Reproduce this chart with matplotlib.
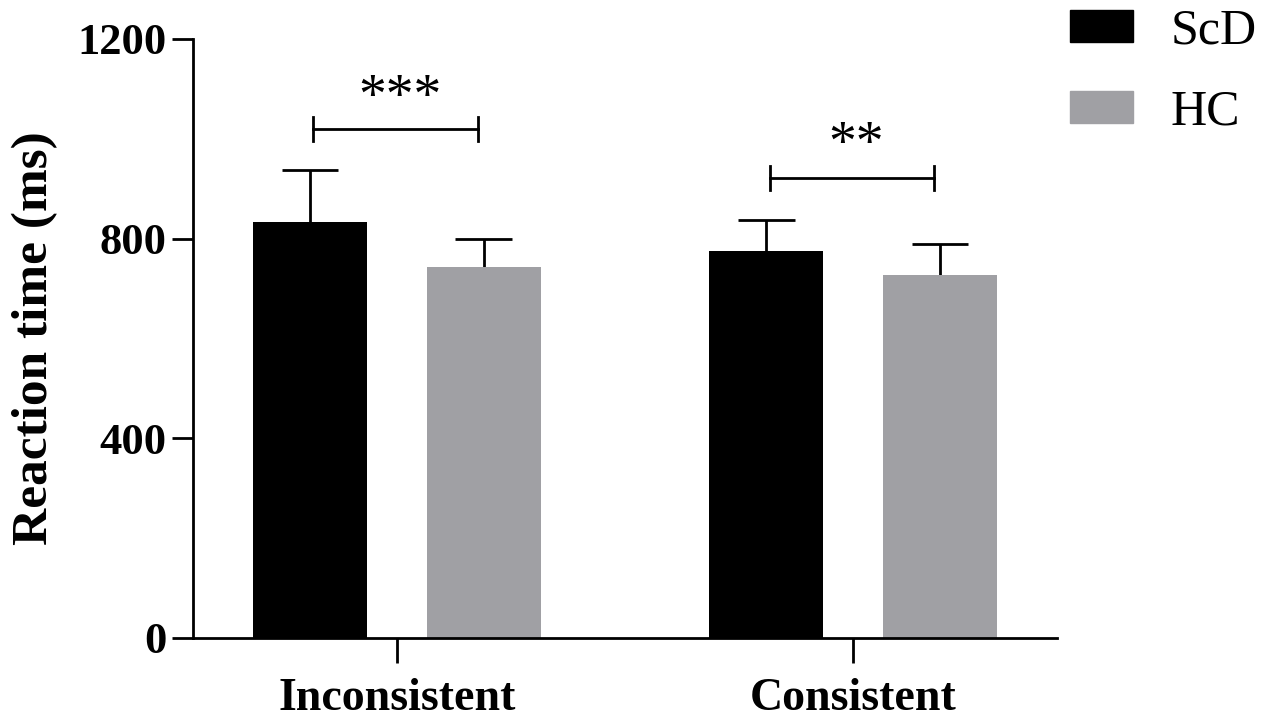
import numpy as np
import matplotlib.pyplot as plt
from matplotlib.patches import Patch

# Datos del gráfico
conditions = ['Inconsistent', 'Consistent']
groups = ['ScD', 'HC']
scd_mean = [833, 775]
scd_err = [104, 62]
hc_mean = [743, 727]
hc_err = [57, 62]
sig_labels = ['***', '**']
sig_heights = [1020, 921]
star_heights = [1080, 985]

colors = {'ScD': '#000000', 'HC': '#a0a0a4'}

plt.rcParams['font.family'] = ['Liberation Serif', 'DejaVu Serif']


def plot_reaction_time():
    fig = plt.figure(figsize=(12.62, 7.19), dpi=100)
    ax = fig.add_axes([0.1529, 0.1127, 0.6847, 0.8331])

    x = np.arange(len(conditions))
    off = 0.19
    w = 0.25
    cw = 0.062  # media anchura de la barra de error
    for xs, mean, err, g in [(x - off, scd_mean, scd_err, 'ScD'),
                             (x + off, hc_mean, hc_err, 'HC')]:
        ax.bar(xs, mean, w, color=colors[g], zorder=2)
        top = np.array(mean) + np.array(err)
        ax.vlines(xs, mean, top, color='black', lw=2, zorder=1)
        ax.hlines(top, xs - cw, xs + cw, color='black', lw=2, zorder=1)

    # Corchetes de significación
    for i, (lab, h, hs) in enumerate(zip(sig_labels, sig_heights, star_heights)):
        x0, x1 = x[i] - 0.183, x[i] + 0.177
        ax.plot([x0, x1], [h, h], color='black', lw=2)
        ax.plot([x0, x0], [h - 24, h + 24], color='black', lw=2)
        ax.plot([x1, x1], [h - 24, h + 24], color='black', lw=2)
        ax.text((x0 + x1) / 2 + 0.01, hs, lab, ha='center', va='center', fontsize=40)

    ax.set_xlim(-0.447, 1.447)
    ax.set_ylim(0, 1200)
    ax.set_yticks([0, 400, 800, 1200])
    ax.set_xticks(x)
    ax.set_xticklabels(conditions, fontsize=33, fontweight='bold')
    for t in ax.get_yticklabels():
        t.set_fontsize(32)
        t.set_fontweight('bold')
    ax.set_ylabel('Reaction time (ms)', fontsize=37, fontweight='bold', labelpad=14)

    for s in ['top', 'right']:
        ax.spines[s].set_visible(False)
    for s in ['left', 'bottom']:
        ax.spines[s].set_linewidth(2)
    ax.tick_params(axis='y', length=15, width=2, pad=4)
    ax.tick_params(axis='x', length=18, width=2, pad=11)

    handles = [Patch(color=colors[g], label=g) for g in groups]
    fig.legend(handles=handles, loc='upper left', bbox_to_anchor=(0.824, 1.03),
               frameon=False, fontsize=36, handlelength=1.26, handleheight=0.6,
               handletextpad=0.75, labelspacing=0.69, borderpad=0.1)

    fig.savefig('out.png', dpi=100)


if __name__ == "__main__":
    plot_reaction_time()
